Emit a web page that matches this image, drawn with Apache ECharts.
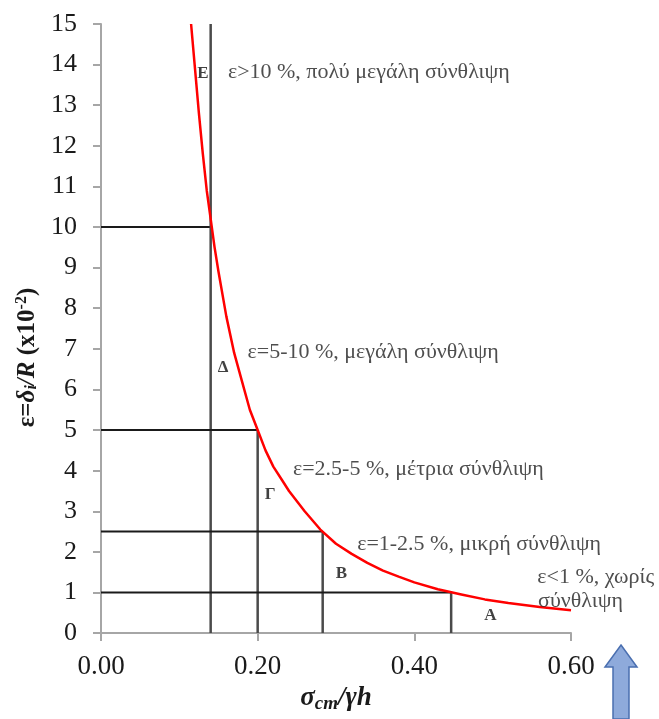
<!DOCTYPE html>
<html>
<head>
<meta charset="utf-8">
<script src="https://cdn.jsdelivr.net/npm/echarts@6/dist/echarts.min.js"></script>
<style>
  html, body { margin: 0; padding: 0; background: #fff; }
  #chart { width: 659px; height: 719px; }
</style>
</head>
<body>
<div id="chart"></div>
<script>
// curve: sigma_cm / gamma h  vs  strain (x10^-2)
const curveX = [0.115, 0.12, 0.125, 0.13, 0.135, 0.14, 0.145, 0.15, 0.16, 0.17, 0.18, 0.19, 0.20, 0.21, 0.22, 0.23, 0.24, 0.26, 0.28, 0.30, 0.32, 0.34, 0.36, 0.38, 0.40, 0.43, 0.46, 0.49, 0.52, 0.56, 0.60];
const curveY = [15.0, 13.9, 12.8, 11.8, 10.9, 10.2, 9.5, 8.9, 7.8, 6.9, 6.2, 5.5, 5.0, 4.5, 4.1, 3.8, 3.5, 3.0, 2.55, 2.2, 1.95, 1.73, 1.54, 1.39, 1.25, 1.08, 0.95, 0.83, 0.74, 0.64, 0.56];

// class limits: vertical line at x, horizontal line at y
const limitX = [0.14, 0.20, 0.283, 0.447];
const limitY = [10, 5, 2.5, 1];
const limitTop = [15, 5, 2.5, 1];

// annotations
const noteText = ['ε>10 %, πολύ μεγάλη σύνθλιψη', 'ε=5-10 %, μεγάλη σύνθλιψη', 'ε=2.5-5 %, μέτρια σύνθλιψη', 'ε=1-2.5 %, μικρή σύνθλιψη', 'ε<1 %, χωρίς', 'σύνθλιψη'];
const noteX = [0.162, 0.187, 0.245, 0.327, 0.557, 0.558];
const noteY = [13.82, 6.91, 4.03, 2.19, 1.38, 0.79];

const classText = ['Ε', 'Δ', 'Γ', 'Β', 'Α'];
const classX = [0.130, 0.156, 0.216, 0.307, 0.497];
const classY = [13.77, 6.54, 3.42, 1.475, 0.42];

const chart = echarts.init(document.getElementById('chart'));
const serif = '"Liberation Serif", "DejaVu Serif", serif';

const segs = [];
limitX.forEach((x, i) => {
  segs.push({
    type: 'line', data: [[0, limitY[i]], [x, limitY[i]]], showSymbol: false, silent: true,
    lineStyle: { color: '#1a1a1a', width: 2 }, z: 2
  });
  segs.push({
    type: 'line', data: [[x, 0], [x, limitTop[i]]], showSymbol: false, silent: true,
    lineStyle: { color: '#4a4a4a', width: 2.5 }, z: 2
  });
});

const option = {
  animation: false,
  backgroundColor: '#fff',
  grid: { left: 101, right: 88, top: 24, bottom: 85, containLabel: false },
  xAxis: {
    type: 'value', min: 0, max: 0.6, interval: 0.2,
    name: '{b|σ}{s|cm}{b|/γh}',
    nameLocation: 'middle', nameGap: 25,
    nameTextStyle: {
      rich: {
        b: { fontFamily: serif, fontSize: 27, fontWeight: 'bold', fontStyle: 'italic', color: '#1a1a1a' },
        s: { fontFamily: serif, fontSize: 19, fontWeight: 'bold', fontStyle: 'italic', color: '#1a1a1a', padding: [12, 0, 0, 0] }
      }
    },
    axisLine: { lineStyle: { color: '#a6a6a6', width: 2 } },
    axisTick: { show: true, length: 8, lineStyle: { color: '#a6a6a6', width: 2 } },
    axisLabel: {
      margin: 20, fontFamily: serif, fontSize: 27, color: '#1a1a1a',
      formatter: v => v.toFixed(2)
    },
    splitLine: { show: false }
  },
  yAxis: {
    type: 'value', min: 0, max: 15, interval: 1,
    name: '{u|ε=}{b|δ}{s|i}{b|/R}{u| (x10}{p|-2}{u|)}',
    nameLocation: 'middle', nameGap: 50,
    nameTextStyle: {
      padding: [0, 58, 0, 0],
      rich: {
        b: { fontFamily: serif, fontSize: 25, fontWeight: 'bold', fontStyle: 'italic', color: '#1a1a1a' },
        u: { fontFamily: serif, fontSize: 25, fontWeight: 'bold', color: '#1a1a1a' },
        s: { fontFamily: serif, fontSize: 16, fontWeight: 'bold', fontStyle: 'italic', color: '#1a1a1a', padding: [10, 0, 0, 0] },
        p: { fontFamily: serif, fontSize: 16, fontWeight: 'bold', color: '#1a1a1a', padding: [0, 0, 10, 0] }
      }
    },
    axisLine: { show: true, lineStyle: { color: '#a6a6a6', width: 2 } },
    axisTick: { show: true, length: 8, lineStyle: { color: '#a6a6a6', width: 2 } },
    axisLabel: { margin: 24, fontFamily: serif, fontSize: 26, color: '#1a1a1a' },
    splitLine: { show: false }
  },
  series: [
    ...segs,
    {
      type: 'line', smooth: false, showSymbol: false, silent: true, z: 5,
      data: curveX.map((x, i) => [x, curveY[i]]),
      lineStyle: { color: '#ff0000', width: 2.5, join: 'round' }
    },
    {
      type: 'scatter', symbolSize: 0, silent: true, z: 6,
      data: noteText.map((t, i) => ({ value: [noteX[i], noteY[i]], name: t })),
      label: {
        show: true, position: 'right', distance: 0, formatter: p => p.name,
        fontFamily: serif, fontSize: 22, color: '#222'
      }
    },
    {
      type: 'scatter', symbolSize: 0, silent: true, z: 6,
      data: classText.map((t, i) => ({ value: [classX[i], classY[i]], name: t })),
      label: {
        show: true, position: 'inside', formatter: p => p.name,
        fontFamily: serif, fontSize: 17, fontWeight: 'bold', color: '#111'
      }
    }
  ],
  graphic: [{
    type: 'polygon',
    shape: { points: [[621, 645], [637, 667], [629, 667], [629, 719], [613, 719], [613, 667], [605, 667]] },
    style: { fill: '#8eaadb', stroke: '#4a6fb0', lineWidth: 1.5 }
  }]
};

chart.setOption(option);
</script>
</body>
</html>
